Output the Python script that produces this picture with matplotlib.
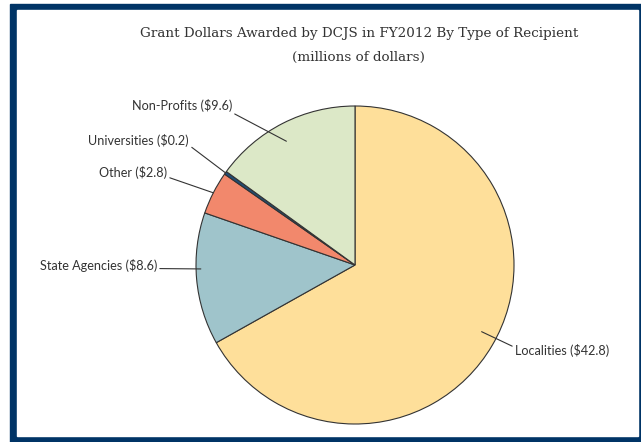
import numpy as np
import matplotlib
matplotlib.use("Agg")
import matplotlib.pyplot as plt
from matplotlib.patches import Rectangle

# grant dollars by recipient type (millions), clockwise from top
categories = ["Localities", "State Agencies", "Other", "Universities", "Non-Profits"]
values = [42.8, 8.6, 2.8, 0.2, 9.6]
colors = ["#FEDF9A", "#9FC4CB", "#F2886C", "#1F4E79", "#DCE8C7"]
labels = [f"{c} (${v})" for c, v in zip(categories, values)]

W, H = 641, 442
fig = plt.figure(figsize=(W / 100, H / 100), dpi=100)

# navy frame round the chart
fig.patches.append(Rectangle((10 / W, -0.01), 1.02, (442 - 4) / H + 0.01,
                             transform=fig.transFigure, color="#003466", zorder=-2))
fig.patches.append(Rectangle((17 / W, (442 - 436) / H), (638 - 17) / W, (436 - 10) / H,
                             transform=fig.transFigure, color="white", zorder=-1))

ax = fig.add_axes([0, 0, 1, 1])
ax.set_zorder(1)
ax.patch.set_alpha(0)
cx, cy, R = 355, 265, 159  # pie centre and radius in pixels

wedges, _ = ax.pie(values, colors=colors, startangle=90, counterclock=False,
                   wedgeprops=dict(edgecolor="#333333", linewidth=0.8))
ax.set_xlim(-cx / R, (W - cx) / R)
ax.set_ylim((cy - H) / R, cy / R)
ax.axis("off")

# leader lines: inner radius, angle shift from wedge middle, label anchor, alignment, relpos
layout = {
    "Localities": (0.90, 2.6, (1.006, -0.535), "left", (0, 0.7)),
    "State Agencies": (0.97, -3.6, (-1.245, -0.006), "right", (1, 0.3)),
    "Other": (1.0, 0, (-1.182, 0.579), "right", (1, 0.2)),
    "Universities": (1.0, 0, (-1.044, 0.786), "right", (1, 0.1)),
    "Non-Profits": (0.89, 2.0, (-0.774, 1.0), "right", (1, 0.0)),
}
for w, cat, lab in zip(wedges, categories, labels):
    r_in, shift, txy, ha, rel = layout[cat]
    ang = np.deg2rad((w.theta1 + w.theta2) / 2 + shift)
    ax.annotate(lab, xy=(r_in * np.cos(ang), r_in * np.sin(ang)), xytext=txy,
                ha=ha, va="center", fontsize=9.1, family="Lato", color="#333333",
                arrowprops=dict(arrowstyle="-", color="#333333", lw=0.8,
                                shrinkA=0, shrinkB=0, relpos=rel))

fig.text(359 / W, 1 - 34 / H, "Grant Dollars Awarded by DCJS in FY2012 By Type of Recipient",
         ha="center", va="center", fontsize=9.7, family="DejaVu Serif", color="#333333")
fig.text(359 / W, 1 - 57 / H, "(millions of dollars)",
         ha="center", va="center", fontsize=9.7, family="DejaVu Serif", color="#333333")

fig.savefig("out.png", dpi=100)
